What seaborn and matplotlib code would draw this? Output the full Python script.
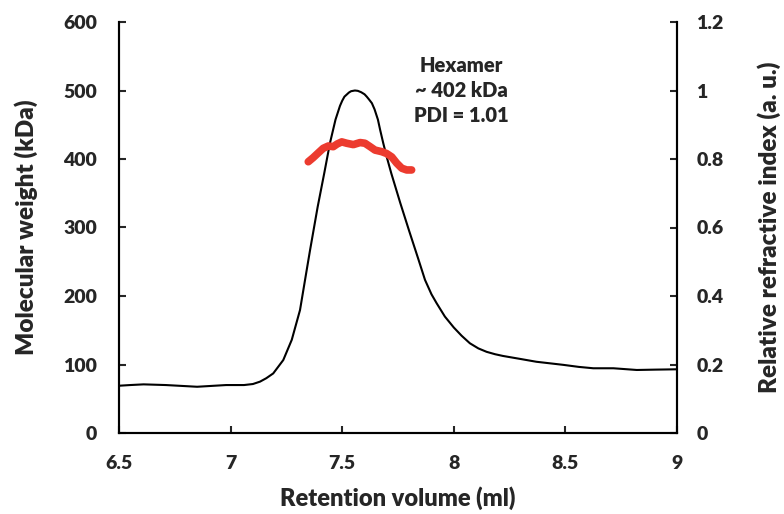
import matplotlib
matplotlib.use("Agg")
import matplotlib.pyplot as plt
import seaborn as sns
import pandas as pd

# Refractive index trace (right axis)
ri_volume = [6.50, 6.55, 6.61, 6.71, 6.85, 6.98, 7.06, 7.10, 7.132, 7.16, 7.191,
             7.236, 7.274, 7.311, 7.341, 7.356, 7.39, 7.42, 7.445, 7.47, 7.49,
             7.50, 7.51, 7.53, 7.54, 7.557, 7.57, 7.585, 7.60, 7.61, 7.62, 7.633,
             7.645, 7.66, 7.67, 7.684, 7.70, 7.72, 7.76, 7.80, 7.84, 7.871, 7.90,
             7.923, 7.96, 8.00, 8.035, 8.072, 8.11, 8.147, 8.185, 8.22, 8.30,
             8.37, 8.49, 8.56, 8.625, 8.715, 8.82, 8.90, 9.00]
ri_value = [0.138, 0.140, 0.142, 0.140, 0.135, 0.140, 0.140, 0.143, 0.150, 0.160, 0.174,
            0.213, 0.272, 0.359, 0.476, 0.534, 0.660, 0.760, 0.846, 0.915, 0.955,
            0.970, 0.982, 0.994, 0.998, 1.000, 0.999, 0.995, 0.989, 0.982, 0.974, 0.963,
            0.945, 0.915, 0.885, 0.846, 0.805, 0.758, 0.672, 0.590, 0.510, 0.447, 0.405,
            0.379, 0.340, 0.308, 0.284, 0.262, 0.247, 0.237, 0.230, 0.225, 0.216,
            0.208, 0.199, 0.193, 0.189, 0.189, 0.184, 0.185, 0.186]

# Molecular weight (left axis)
mw_volume = [7.348, 7.370, 7.393, 7.415, 7.438, 7.460, 7.478, 7.498, 7.520, 7.550,
             7.580, 7.602, 7.625, 7.647, 7.677, 7.699, 7.722, 7.744, 7.767, 7.789, 7.811]
mw_value = [396, 402, 409, 415.6, 419, 418, 422, 425, 423, 421,
            424, 423, 418, 413, 410.7, 408, 403, 394, 386.5, 384, 384]

x_ticks = [6.5, 7, 7.5, 8, 8.5, 9]
x_ticklabels = ["6.5", "7", "7.5", "8", "8.5", "9"]
left_ticks = [0, 100, 200, 300, 400, 500, 600]
right_ticks = [0, 0.2, 0.4, 0.6, 0.8, 1.0, 1.2]
right_ticklabels = ["0", "0.2", "0.4", "0.6", "0.8", "1", "1.2"]

annotation = "Hexamer\n~ 402 kDa\nPDI = 1.01"

sns.set_style("white")
plt.rcParams["font.family"] = ["Lato", "DejaVu Sans"]
W = "heavy"

fig = plt.figure(figsize=(7.84, 5.14), dpi=100)
ax = fig.add_axes([119 / 784, 81 / 514, 558 / 784, 411 / 514])
ax2 = ax.twinx()

ri_df = pd.DataFrame({"vol": ri_volume, "ri": ri_value})
mw_df = pd.DataFrame({"vol": mw_volume, "mw": mw_value})

sns.lineplot(data=ri_df, x="vol", y="ri", ax=ax2, color="black", linewidth=1.5,
             sort=False, estimator=None, solid_joinstyle="round")
sns.lineplot(data=mw_df, x="vol", y="mw", ax=ax, color="#ec3b2f", linewidth=5.5,
             sort=False, estimator=None, solid_capstyle="round", solid_joinstyle="round")

ax.set_zorder(ax2.get_zorder() + 1)
ax.patch.set_visible(False)

ax.set_xlim(6.5, 9)
ax.set_ylim(0, 600)
ax2.set_ylim(0, 1.2)

ax.set_xticks(x_ticks)
ax.set_xticklabels(x_ticklabels)
ax.set_yticks(left_ticks)
ax2.set_yticks(right_ticks)
ax2.set_yticklabels(right_ticklabels)

for a in (ax, ax2):
    for s in a.spines.values():
        s.set_linewidth(1.5)
        s.set_color("black")
    a.spines["top"].set_visible(False)

ax.tick_params(axis="x", direction="in", length=5, width=1.5, pad=16, labelsize=14,
               bottom=True, top=False)
ax.tick_params(axis="y", direction="in", length=5, width=1.5, pad=16, labelsize=14,
               left=True, right=False)
ax2.tick_params(axis="y", direction="in", length=5, width=1.5, pad=14, labelsize=14,
                right=True, left=False)
for lab in ax.get_xticklabels() + ax.get_yticklabels() + ax2.get_yticklabels():
    lab.set_fontweight(W)

ax.set_xlabel("Retention volume (ml)", fontsize=17, fontweight=W, labelpad=10)
ax.set_ylabel("Molecular weight (kDa)", fontsize=17.5, fontweight=W, labelpad=18)
ax2.set_ylabel("Relative refractive index (a. u.)", fontsize=17.5, fontweight=W,
               labelpad=24)

ax.text(8.035, 500, annotation, ha="center", va="center", fontsize=14.5,
        fontweight=W, linespacing=1.35)

fig.savefig("out.png", dpi=100)
